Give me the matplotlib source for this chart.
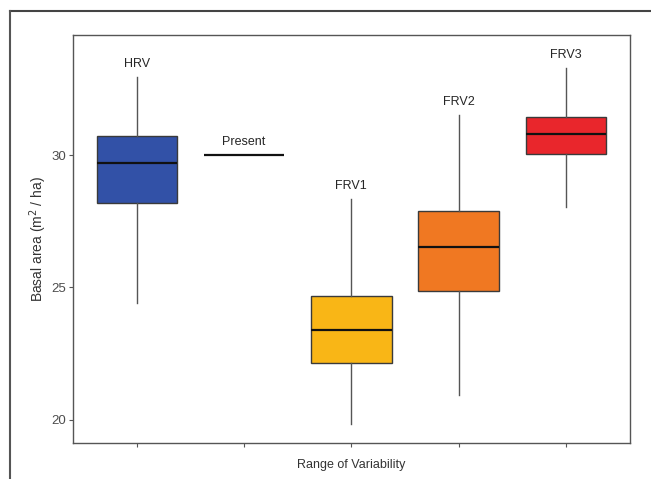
import matplotlib
matplotlib.use('Agg')
from matplotlib import pyplot as plt
from matplotlib.lines import Line2D

# values
groups = ['HRV', 'Present', 'FRV1', 'FRV2', 'FRV3']
whis_lo = [24.4, 30.0, 19.85, 20.94, 28.05]
q1 = [28.2, 30.0, 22.14, 24.85, 30.04]
med = [29.7, 30.0, 23.38, 26.54, 30.79]
q3 = [30.71, 30.0, 24.66, 27.9, 31.43]
whis_hi = [32.93, 30.0, 28.35, 31.5, 33.27]
colors = ['#3251a7', '#ffffff', '#f9b616', '#f07822', '#e9262c']
y_ticks = [20, 25, 30]

plt.rcParams['font.family'] = ['Liberation Sans', 'DejaVu Sans']

stats = []
for i, g in enumerate(groups):
    stats.append({'label': g, 'whislo': whis_lo[i], 'q1': q1[i], 'med': med[i],
                  'q3': q3[i], 'whishi': whis_hi[i], 'fliers': []})

fig = plt.figure(figsize=(6.51, 4.79), dpi=100, facecolor='w')
ax = fig.add_axes([72.7 / 651, 1 - 442.7 / 479, 557.3 / 651, 407.7 / 479])

edge = '#3a3a3a'
bp = ax.bxp(stats, positions=range(1, 6), widths=0.75, patch_artist=True,
            showcaps=False,
            boxprops=dict(edgecolor=edge, linewidth=1.0),
            whiskerprops=dict(color='#555555', linewidth=1.0),
            medianprops=dict(color='#111111', linewidth=1.6))
for patch, c in zip(bp['boxes'], colors):
    patch.set_facecolor(c)
# the single-value "Present" group shows only its line
bp['boxes'][1].set_edgecolor('none')

for i, g in enumerate(groups):
    ax.annotate(g, (i + 1, whis_hi[i]), xytext=(0, 9.5), textcoords='offset points',
                ha='center', va='center', fontsize=9, color='#262626')

ax.set_xlim(0.4, 5.6)
ax.set_ylim(19.14, 34.53)
ax.set_yticks(y_ticks)
ax.set_xticks(range(1, 6))
ax.set_xticklabels([])
ax.tick_params(axis='both', length=3, width=0.8, color='#555555',
               labelsize=9.5, labelcolor='#4d4d4d', pad=2)
for s in ax.spines.values():
    s.set_color('#555555')
    s.set_linewidth(1.0)

ax.set_xlabel('Range of Variability', fontsize=9, color='#333333', labelpad=7)
ax.set_ylabel('Basal area (m$^2$ / ha)', fontsize=10, color='#333333', labelpad=1.5)

# outer frame of the original figure panel (cut at right and bottom)
fx = 10 / 651
fy = 1 - 10.7 / 479
fig.add_artist(Line2D([fx, 1.0], [fy, fy], transform=fig.transFigure,
                      color='#444444', linewidth=1.5))
fig.add_artist(Line2D([fx, fx], [0.0, fy], transform=fig.transFigure,
                      color='#555555', linewidth=1.5))

fig.savefig('out.png', dpi=100, facecolor='w')
